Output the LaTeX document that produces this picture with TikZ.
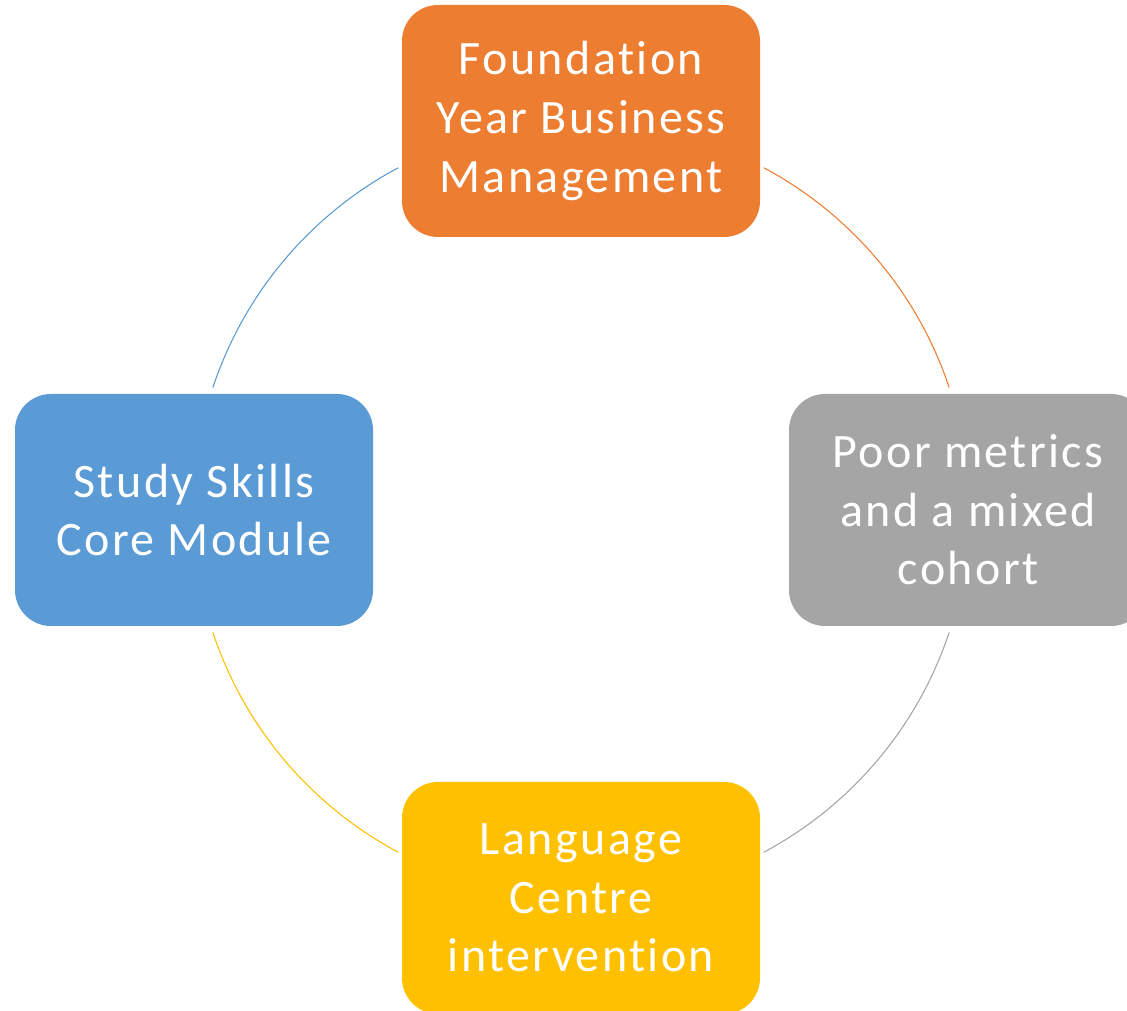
\documentclass[tikz,border=0pt]{standalone}
\usepackage{fontspec}
\setmainfont[Ligatures={NoCommon}, LetterSpace=5]{Carlito}
\definecolor{cOrange}{HTML}{ED7D31}
\definecolor{cGray}{HTML}{A5A5A5}
\definecolor{cYellow}{HTML}{FFC000}
\definecolor{cBlue}{HTML}{5B9BD5}
\tikzset{
  cyclebox/.style={rounded corners=27pt, minimum width=268.5pt, minimum height=174pt,
    inner sep=0pt, align=center, text=white,
    font=\fontsize{36}{43.9}\selectfont},
  cyclearc/.style={line width=0.8pt}
}
\begin{document}
\begin{tikzpicture}[x=0.75pt,y=0.75pt]
\useasboundingbox (0,0) rectangle (1127,1010);
\clip (0,0) rectangle (1127,1010);
\coordinate (c) at (581,500);
\node[cyclebox, fill=cOrange] (top) at (581,889) {Foundation\\Year Business\\Management};
\node[cyclebox, fill=cGray] (right) at (968,500) {Poor metrics\\and a mixed\\cohort};
\node[cyclebox, fill=cYellow] (bottom) at (581,112) {Language\\Centre\\intervention};
\node[cyclebox, fill=cBlue] (left) at (194,500) {Study Skills\\Core Module};
\draw[cyclearc, cOrange] (c) ++(61.9:388) arc[start angle=61.9, end angle=18.4, radius=388];
\draw[cyclearc, cGray] (c) ++(-18.4:388) arc[start angle=-18.4, end angle=-61.9, radius=388];
\draw[cyclearc, cYellow] (c) ++(-118.1:388) arc[start angle=-118.1, end angle=-161.6, radius=388];
\draw[cyclearc, cBlue] (c) ++(161.6:388) arc[start angle=161.6, end angle=118.1, radius=388];
\end{tikzpicture}
\end{document}
